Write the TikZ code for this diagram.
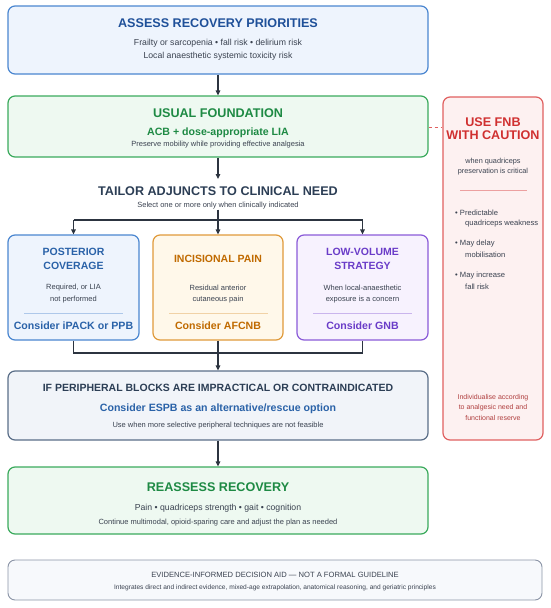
\documentclass[tikz,border=0pt]{standalone}
\usepackage{fontspec}
\setmainfont{Liberation Sans}
\usetikzlibrary{arrows.meta}
\definecolor{ink}{HTML}{2C3440}
\definecolor{bodyc}{HTML}{3A4250}
\definecolor{blueB}{HTML}{4A86D0}
\definecolor{blueF}{HTML}{EEF4FD}
\definecolor{blueT}{HTML}{1F5099}
\definecolor{blueT2}{HTML}{2A62A8}
\definecolor{greenB}{HTML}{3AAA5C}
\definecolor{greenF}{HTML}{EEF9F1}
\definecolor{greenT}{HTML}{1E8A44}
\definecolor{slateT}{HTML}{2C3E55}
\definecolor{orB}{HTML}{E09A3A}
\definecolor{orF}{HTML}{FFF8EA}
\definecolor{orT}{HTML}{C06A00}
\definecolor{puB}{HTML}{8A5AD8}
\definecolor{puF}{HTML}{F7F2FE}
\definecolor{puT}{HTML}{6A3CC8}
\definecolor{grB}{HTML}{5A6E88}
\definecolor{grF}{HTML}{F1F4F9}
\definecolor{ftB}{HTML}{8A94A6}
\definecolor{ftF}{HTML}{F7F9FC}
\definecolor{redB}{HTML}{E06060}
\definecolor{redF}{HTML}{FDF1F1}
\definecolor{redT}{HTML}{D03030}
\definecolor{redT2}{HTML}{B04040}
\begin{document}
\begin{tikzpicture}[x=1pt,y=-1pt,
  box/.style={draw, rounded corners=7pt, line width=1.2pt, inner sep=0pt},
  t/.style={inner sep=0pt, anchor=center, text=bodyc},
  ttl/.style={t, font=\fontsize{12.6}{14}\selectfont\bfseries},
  sub/.style={t, font=\fontsize{10.6}{12}\selectfont\bfseries},
  btl/.style={t, font=\fontsize{10.5}{12}\selectfont\bfseries},
  bod/.style={t, font=\fontsize{8.7}{10}\selectfont},
  sml/.style={t, font=\fontsize{7.5}{9}\selectfont},
  rb/.style={t, anchor=west, font=\fontsize{7.6}{9}\selectfont},
  arr/.style={draw=ink, line width=1.2pt, -{Triangle[length=5pt,width=4.5pt]}},
  ln/.style={draw=ink, line width=1.2pt}
]
\useasboundingbox (0,0) rectangle (550,608);

% Box 1
\node[box, draw=blueB, fill=blueF, minimum width=420pt, minimum height=68pt] (b1) at (218,40) {};
\node[ttl, text=blueT] (b1t) at (218,23) {ASSESS RECOVERY PRIORITIES};
\node[bod] (b1a) at (218,43) {Frailty or sarcopenia • fall risk • delirium risk};
\node[bod] (b1b) at (218,56) {Local anaesthetic systemic toxicity risk};

% Box 2
\node[box, draw=greenB, fill=greenF, minimum width=420pt, minimum height=61pt] (b2) at (218,126.5) {};
\node[ttl, text=greenT] (b2t) at (218,113) {USUAL FOUNDATION};
\node[sub, text=greenT] (b2a) at (218,133) {ACB + dose-appropriate LIA};
\node[sml] (b2b) at (218,145) {Preserve mobility while providing effective analgesia};

% Tailor
\node[ttl, text=slateT] (tl) at (218,191) {TAILOR ADJUNCTS TO CLINICAL NEED};
\node[sml] (tls) at (218,206) {Select one or more only when clinically indicated};

% Branch boxes
\node[box, draw=blueB, fill=blueF, minimum width=131pt, minimum height=105pt] (p) at (73.5,287.5) {};
\node[btl, text=blueT2] (pt1) at (73.5,252) {POSTERIOR};
\node[btl, text=blueT2] (pt2) at (73.5,265.5) {COVERAGE};
\node[sml] (pa) at (73.5,288) {Required, or LIA};
\node[sml] (pb) at (73.5,300) {not performed};
\draw[blueB!45, line width=0.8pt] (24,313) -- (123,313);
\node[sub, text=blueT2] (pc) at (73.5,326) {Consider iPACK or PPB};

\node[box, draw=orB, fill=orF, minimum width=130pt, minimum height=105pt] (ic) at (218,287.5) {};
\node[btl, text=orT] (it) at (218,258.5) {INCISIONAL PAIN};
\node[sml] (ia) at (218,288) {Residual anterior};
\node[sml] (ib) at (218,300) {cutaneous pain};
\draw[orB!45, line width=0.8pt] (169,313) -- (268,313);
\node[sub, text=orT] (icn) at (218,326) {Consider AFCNB};

\node[box, draw=puB, fill=puF, minimum width=131pt, minimum height=105pt] (lv) at (362.5,287.5) {};
\node[btl, text=puT] (lt1) at (362.5,252) {LOW-VOLUME};
\node[btl, text=puT] (lt2) at (362.5,265.5) {STRATEGY};
\node[sml] (la) at (362.5,288) {When local-anaesthetic};
\node[sml] (lb) at (362.5,300) {exposure is a concern};
\draw[puB!45, line width=0.8pt] (313,313) -- (412,313);
\node[sub, text=puT] (lc) at (362.5,326) {Consider GNB};

% Peripheral box
\node[box, draw=grB, fill=grF, minimum width=420pt, minimum height=69pt] (pe) at (218,405.5) {};
\node[btl, text=slateT] (pet) at (218,388) {IF PERIPHERAL BLOCKS ARE IMPRACTICAL OR CONTRAINDICATED};
\node[sub, text=blueT2] (pea) at (218,409) {Consider ESPB as an alternative/rescue option};
\node[sml] (peb) at (218,426) {Use when more selective peripheral techniques are not feasible};

% Reassess
\node[box, draw=greenB, fill=greenF, minimum width=420pt, minimum height=67pt] (ra) at (218,500.5) {};
\node[ttl, text=greenT] (rat) at (218,487) {REASSESS RECOVERY};
\node[bod] (raa) at (218,508) {Pain • quadriceps strength • gait • cognition};
\node[sml] (rab) at (218,523) {Continue multimodal, opioid-sparing care and adjust the plan as needed};

% Footer
\node[box, draw=ftB, fill=ftF, line width=0.9pt, minimum width=534pt, minimum height=40pt] (ft) at (275,580) {};
\node[t, font=\fontsize{7.6}{9}\selectfont] (fta) at (275,574.5) {EVIDENCE-INFORMED DECISION AID — NOT A FORMAL GUIDELINE};
\node[t, font=\fontsize{6.6}{8}\selectfont] (ftb) at (275,588) {Integrates direct and indirect evidence, mixed-age extrapolation, anatomical reasoning, and geriatric principles};

% Red caution box
\node[box, draw=redB, fill=redF, minimum width=100pt, minimum height=343pt] (rd) at (493,268.5) {};
\node[ttl, text=redT] (rdt1) at (493,122) {USE FNB};
\node[ttl, text=redT] (rdt2) at (493,135.5) {WITH CAUTION};
\node[t, font=\fontsize{7.3}{9}\selectfont] (rda) at (493,162) {when quadriceps};
\node[t, font=\fontsize{7.3}{9}\selectfont] (rdb) at (493,172) {preservation is critical};
\draw[redB!60, line width=0.8pt] (460,190) -- (527,190);
\node[rb] (r1) at (455,213) {• Predictable};
\node[rb] (r1b) at (465,223.5) {quadriceps weakness};
\node[rb] (r2) at (455,244) {• May delay};
\node[rb] (r2b) at (465,254.5) {mobilisation};
\node[rb] (r3) at (455,276) {• May increase};
\node[rb] (r3b) at (465,287) {fall risk};
\node[t, text=redT2, font=\fontsize{7}{9}\selectfont] (rc1) at (493,398) {Individualise according};
\node[t, text=redT2, font=\fontsize{7}{9}\selectfont] (rc2) at (493,408) {to analgesic need and};
\node[t, text=redT2, font=\fontsize{7}{9}\selectfont] (rc3) at (493,418) {functional reserve};

% Connectors
\coordinate (tin) at (218,179);
\draw[arr] (b1.south) -- (b2.north);
\draw[arr] (b2.south) -- (tin);
\coordinate (split) at (218,220);
\coordinate (merge) at (218,353);
\draw[ln] (tls.south) -- (split);
\draw[ln] (split -| p.north) -- (split -| lv.north);
\draw[arr] (split -| p.north) -- (p.north);
\draw[arr] (split) -- (ic.north);
\draw[arr] (split -| lv.north) -- (lv.north);
\draw[ln] (p.south) -- (merge -| p.south) -- (merge -| lv.south) -- (lv.south);
\draw[ln] (ic.south) -- (merge);
\draw[arr] (merge) -- (pe.north);
\draw[arr] (pe.south) -- (ra.north);
\draw[redB, line width=1pt, dashed, dash pattern=on 3pt off 3pt] (b2.east |- 0,127) -- (rd.west |- 0,127);
\end{tikzpicture}
\end{document}
